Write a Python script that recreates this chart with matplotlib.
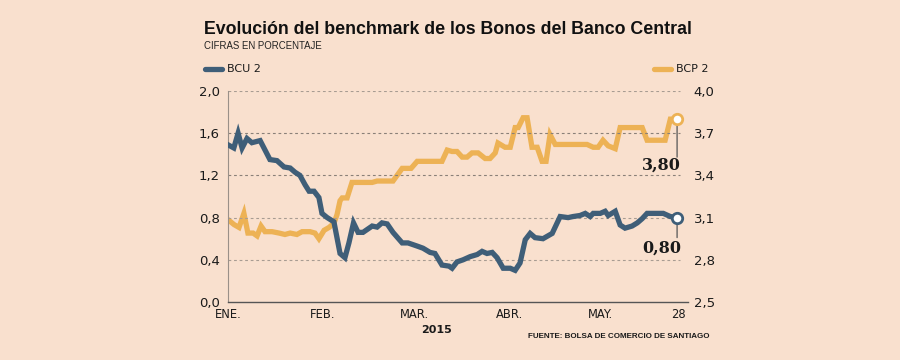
import matplotlib
matplotlib.use("Agg")
import matplotlib.pyplot as plt
from matplotlib.lines import Line2D

# ---------------- data ----------------
# x values: days since 1 Jan 2015
bcu_day = [0, 1.9, 3.3, 4.6, 6.2, 7.8, 10.5, 12.1, 13.7, 16.0, 18.3, 20.3, 21.9, 23.5,
           25.2, 26.5, 28.1, 29.7, 30.7, 32.4, 34.6, 36.6, 38.2, 39.5, 41.0, 42.5, 44.1,
           47.1, 48.7, 50.3, 52.0, 53.9, 56.9, 58.8, 61.8, 63.7, 66.0, 67.6, 69.9, 72.2,
           73.2, 74.8, 76.8, 79.1, 81.4, 83.0, 84.6, 86.3, 87.9, 89.9, 92.2, 93.8, 95.4,
           97.1, 98.7, 100.3, 102.9, 105.9, 108.5, 111.1, 112.7, 115.0, 116.7, 118.3,
           119.3, 121.6, 123.2, 124.2, 126.5, 128.1, 129.7, 132.0, 133.7, 135.3, 136.9,
           138.9, 141.2, 142.2, 144.5, 146.7]
bcu_val = [1.49, 1.46, 1.60, 1.46, 1.55, 1.51, 1.53, 1.44, 1.35, 1.34, 1.28, 1.27, 1.23, 1.20,
           1.11, 1.05, 1.05, 0.99, 0.84, 0.80, 0.76, 0.46, 0.42, 0.56, 0.75, 0.66, 0.66,
           0.72, 0.71, 0.75, 0.74, 0.66, 0.56, 0.56, 0.53, 0.51, 0.47, 0.46, 0.35, 0.34,
           0.32, 0.38, 0.40, 0.43, 0.45, 0.48, 0.46, 0.47, 0.42, 0.32, 0.32, 0.30, 0.37,
           0.59, 0.65, 0.61, 0.60, 0.65, 0.81, 0.80, 0.81, 0.82, 0.84, 0.81,
           0.84, 0.84, 0.86, 0.82, 0.86, 0.73, 0.70, 0.72, 0.75, 0.79, 0.84,
           0.84, 0.84, 0.84, 0.81, 0.80]

bcp_day = [0.3, 2.0, 3.6, 5.2, 6.5, 8.2, 9.5, 10.8, 12.1, 14.4, 16.7, 18.6, 20.3, 22.5, 24.2,
           26.8, 28.4, 29.7, 31.4, 33.0, 34.6, 35.6, 36.6, 37.3, 38.9, 40.5, 42.5, 47.1,
           48.7, 53.9, 56.9, 59.8, 61.8, 69.9, 71.6, 73.2, 74.8, 76.5, 78.1, 79.7, 81.7,
           84.0, 85.6, 87.3, 88.2, 90.5, 92.2, 93.8, 94.8, 96.4, 97.7, 99.3, 101.0, 102.6,
           103.9, 105.2, 106.9, 117.3, 119.3, 120.9, 122.5, 124.2, 126.5, 128.1, 135.3,
           136.9, 142.8, 144.5, 146.7]
bcp_val = [3.08, 3.05, 3.03, 3.13, 2.99, 2.99, 2.97, 3.04, 3.00, 3.00, 2.99, 2.98, 2.99, 2.98, 3.00,
           3.00, 2.99, 2.95, 3.01, 3.03, 3.06, 3.12, 3.22, 3.24, 3.24, 3.35, 3.35, 3.35,
           3.36, 3.36, 3.45, 3.45, 3.50, 3.50, 3.58, 3.57, 3.57, 3.53, 3.53, 3.56, 3.56,
           3.52, 3.52, 3.56, 3.63, 3.60, 3.60, 3.74, 3.74, 3.81, 3.81, 3.60, 3.60, 3.50,
           3.50, 3.69, 3.62, 3.62, 3.60, 3.60, 3.65, 3.61, 3.59, 3.74, 3.74,
           3.65, 3.65, 3.80, 3.80]

x_tick_days = [0, 31, 61, 92, 121.5, 147]
x_tick_labels = ["ENE.", "FEB.", "MAR.", "ABR.", "MAY.", "28"]
left_ticks = [0.0, 0.4, 0.8, 1.2, 1.6, 2.0]
left_labels = ["0,0", "0,4", "0,8", "1,2", "1,6", "2,0"]
right_ticks = [2.5, 2.8, 3.1, 3.4, 3.7, 4.0]
right_labels = ["2,5", "2,8", "3,1", "3,4", "3,7", "4,0"]
last_bcu_label = "0,80"
last_bcp_label = "3,80"

# ---------------- style ----------------
BG = "#F9E0CE"
BLUE = "#3F5E78"
ORANGE = "#EDB255"
GRID = "#8a8078"
TXT = "#1a1a1a"
FONT = "DejaVu Sans"
NARROW = "Liberation Sans"

fig = plt.figure(figsize=(9, 3.6), dpi=100, facecolor=BG)
W, H = 900, 360
x0, x1 = 228, 688
y0, y1 = 302, 91
ax = fig.add_axes([x0 / W, 1 - y0 / H, (x1 - x0) / W, (y0 - y1) / H])
ax.set_facecolor(BG)
xmax = 147 * (x1 - x0) / (678 - 228)
ax.set_xlim(0, xmax)
ax.set_ylim(0, 2.0)

ax2 = ax.twinx()
ax2.set_ylim(2.5, 4.0)

# grid
for t in left_ticks[1:]:
    dark = t in (1.2, 1.6)
    ax.plot([0, 147.5], [t, t], color=GRID if dark else "#a89c92",
            lw=0.8, ls=(0, (2.5, 2.5)), zorder=1)

ax2.plot(bcp_day, bcp_val, color=ORANGE, lw=3.8, solid_joinstyle="miter", zorder=3)
ax.plot(bcu_day, bcu_val, color=BLUE, lw=3.8, solid_joinstyle="miter", zorder=3)
ax.set_zorder(ax2.get_zorder() + 1)
ax.patch.set_visible(False)

# end markers & annotations
ax2.plot([bcp_day[-1]], [bcp_val[-1]], marker="o", ms=7.5, mfc="white", mec=ORANGE,
         mew=2, zorder=5)
ax.plot([bcu_day[-1]], [bcu_val[-1]], marker="o", ms=7.5, mfc="white", mec=BLUE,
        mew=2, zorder=5)
ax2.annotate("", xy=(bcp_day[-1], bcp_val[-1]), xytext=(0, -38), textcoords="offset pixels",
             xycoords="data", arrowprops=dict(arrowstyle="-", color="#555555", lw=0.9,
                                              shrinkA=0, shrinkB=4))
ax2.annotate(last_bcp_label, xy=(bcp_day[-1], bcp_val[-1]), xytext=(4, -46),
             textcoords="offset pixels", ha="right", va="center",
             fontsize=11.5, fontweight="bold", family="DejaVu Serif", color=TXT)
ax.annotate("", xy=(bcu_day[-1], bcu_val[-1]), xytext=(0, -20), textcoords="offset pixels",
            arrowprops=dict(arrowstyle="-", color="#555555", lw=0.9, shrinkA=0, shrinkB=4))
ax.annotate(last_bcu_label, xy=(bcu_day[-1], bcu_val[-1]), xytext=(4, -30),
            textcoords="offset pixels", ha="right", va="center",
            fontsize=11.5, fontweight="bold", family="DejaVu Serif", color=TXT)

# axes styling
for a in (ax, ax2):
    for s in ("top", "right", "left", "bottom"):
        a.spines[s].set_visible(False)
ax.spines["left"].set_visible(True)
ax.spines["left"].set_color("#9a9088")
ax.spines["left"].set_linewidth(0.8)
ax.spines["bottom"].set_visible(True)
ax.spines["bottom"].set_color("#555555")
ax.spines["bottom"].set_linewidth(1.0)

ax.set_yticks(left_ticks)
ax.set_yticklabels(left_labels, fontsize=9.5, family=FONT, color=TXT)
ax.tick_params(axis="y", length=0, pad=6)
ax2.set_yticks(right_ticks)
ax2.set_yticklabels(right_labels, fontsize=9.5, family=FONT, color=TXT)
ax2.tick_params(axis="y", length=0, pad=4)
ax2.set_xticks([])
ax.set_xticks(x_tick_days)
ax.set_xticklabels(x_tick_labels, fontsize=8.3, family=FONT, color=TXT)
ax.tick_params(axis="x", length=0, pad=4)

# titles
fig.text(204 / W, 1 - 29 / H, "Evolución del benchmark de los Bonos del Banco Central",
         fontsize=12.8, fontweight="bold", family=NARROW, color="#111111", va="center")
fig.text(204 / W, 1 - 46 / H, "CIFRAS EN PORCENTAJE", fontsize=6.9, family=NARROW,
         color="#222222", va="center")

# legend
fig.add_artist(Line2D([205 / W, 222 / W], [1 - 69 / H] * 2, color=BLUE, lw=3.8,
                      solid_capstyle="round"))
fig.text(227 / W, 1 - 69 / H, "BCU 2", fontsize=8, family=FONT, color=TXT, va="center")
fig.add_artist(Line2D([654 / W, 671 / W], [1 - 69 / H] * 2, color=ORANGE, lw=3.8,
                      solid_capstyle="round"))
fig.text(676 / W, 1 - 69 / H, "BCP 2", fontsize=8, family=FONT, color=TXT, va="center")

fig.text(437 / W, 1 - 330 / H, "2015", fontsize=8, fontweight="bold", family=FONT,
         color=TXT, ha="center", va="center")
fig.text(710 / W, 1 - 337 / H, "FUENTE: BOLSA DE COMERCIO DE SANTIAGO", fontsize=5.8,
         fontweight="bold", family=NARROW, color=TXT, ha="right", va="center")

fig.savefig("out.png", dpi=100, facecolor=BG)
